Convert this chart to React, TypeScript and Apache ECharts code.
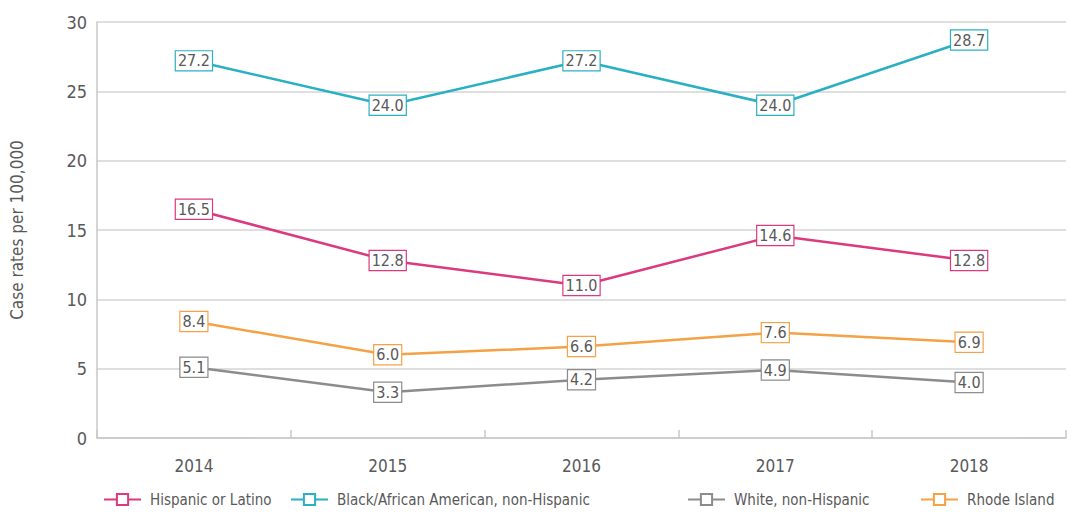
import React, { useEffect, useRef } from "react";
import * as echarts from "echarts";

const years = ["2014", "2015", "2016", "2017", "2018"];
const hispanic = [16.5, 12.8, 11.0, 14.6, 12.8];
const black = [27.2, 24.0, 27.2, 24.0, 28.7];
const white = [5.1, 3.3, 4.2, 4.9, 4.0];
const rhodeIsland = [8.4, 6.0, 6.6, 7.6, 6.9];

const seriesNames = [
  "Hispanic or Latino",
  "Black/African American, non-Hispanic",
  "White, non-Hispanic",
  "Rhode Island",
];
const colors = ["#dc3a7e", "#2ab0c3", "#8c8c8c", "#f5a146"];
const legendLefts = [103, 290, 687, 920];

const FONT = "'DejaVu Sans Condensed', 'Liberation Sans Narrow', sans-serif";
const TEXT = "#595959";

export default function App() {
  const ref = useRef<HTMLDivElement>(null);
  useEffect(() => {
    const chart = echarts.init(ref.current!, null, { renderer: "svg" });
    const datas = [hispanic, black, white, rhodeIsland];
    chart.setOption({
      animation: false,
      textStyle: { fontFamily: FONT },
      grid: { left: 96, right: 5, top: 22, bottom: 74 },
      legend: seriesNames.map((n, i) => ({
        data: [n],
        left: legendLefts[i],
        top: 492,
        padding: 0,
        itemWidth: 37,
        itemHeight: 14,
        itemGap: 10,
        textStyle: { fontFamily: FONT, fontSize: 15, color: TEXT, padding: [0, 0, 0, 4] },
      })),
      xAxis: {
        type: "category",
        data: years,
        axisLine: { lineStyle: { color: "#c8c8c8", width: 1.5 } },
        axisTick: { show: true, inside: true, length: 8, lineStyle: { color: "#c8c8c8", width: 1.5 } },
        axisLabel: { fontFamily: FONT, fontSize: 17, color: TEXT, margin: 19 },
      },
      yAxis: {
        type: "value",
        min: 0,
        max: 30,
        interval: 5,
        name: "Case rates per 100,000",
        nameLocation: "middle",
        nameGap: 72,
        nameRotate: 90,
        nameTextStyle: { fontFamily: FONT, fontSize: 17, color: TEXT },
        axisLine: { show: true, lineStyle: { color: "#c8c8c8", width: 1.5 } },
        axisTick: { show: false },
        axisLabel: { fontFamily: FONT, fontSize: 18, color: TEXT, margin: 10 },
        splitLine: { lineStyle: { color: "#d4d4d4", width: 1.5 } },
      },
      series: seriesNames.map((n, i) => ({
        name: n,
        type: "line",
        data: datas[i],
        color: colors[i],
        symbol: "emptyRect",
        symbolSize: 12,
        lineStyle: { width: 2.5, color: colors[i] },
        itemStyle: { color: colors[i], borderColor: colors[i], borderWidth: 1.5 },
        label: {
          show: true,
          position: "inside",
          formatter: (p: any) => Number(p.value).toFixed(1),
          fontFamily: FONT,
          fontSize: 16,
          color: TEXT,
          backgroundColor: "#ffffff",
          borderColor: colors[i],
          borderWidth: 1.2,
          padding: [2, 2, 1, 2],
        },
      })),
    });
    return () => chart.dispose();
  }, []);
  return <div ref={ref} style={{ width: 1071, height: 512, position: "absolute", left: 0, top: 0 }} />;
}
